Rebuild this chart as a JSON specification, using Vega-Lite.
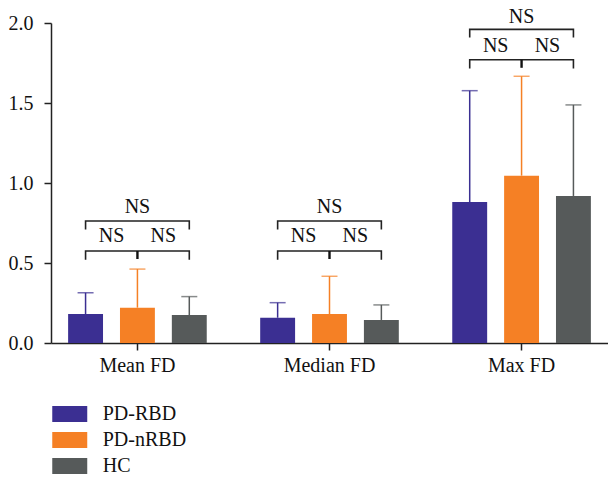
{
  "$schema": "https://vega.github.io/schema/vega-lite/v6.json",
  "width": 557,
  "height": 320,
  "autosize": "none",
  "padding": {"left": 51, "top": 23, "right": 0, "bottom": 134},
  "background": "white",
  "datasets": {
    "bars": [
      {"g": "Mean FD", "s": "PD-RBD", "m": 0.181, "u": 0.314},
      {"g": "Mean FD", "s": "PD-nRBD", "m": 0.221, "u": 0.462},
      {"g": "Mean FD", "s": "HC", "m": 0.175, "u": 0.29},
      {"g": "Median FD", "s": "PD-RBD", "m": 0.158, "u": 0.252},
      {"g": "Median FD", "s": "PD-nRBD", "m": 0.181, "u": 0.417},
      {"g": "Median FD", "s": "HC", "m": 0.144, "u": 0.238},
      {"g": "Max FD", "s": "PD-RBD", "m": 0.881, "u": 1.577},
      {"g": "Max FD", "s": "PD-nRBD", "m": 1.046, "u": 1.667},
      {"g": "Max FD", "s": "HC", "m": 0.919, "u": 1.488}
    ],
    "brackets": [
      {"g": "Mean FD", "b": "up", "o": 1, "s": "PD-RBD", "y": 0.715},
      {"g": "Mean FD", "b": "up", "o": 2, "s": "PD-RBD", "y": 0.7625},
      {"g": "Mean FD", "b": "up", "o": 3, "s": "HC", "y": 0.7625},
      {"g": "Mean FD", "b": "up", "o": 4, "s": "HC", "y": 0.715},
      {"g": "Mean FD", "b": "lo", "o": 1, "s": "PD-RBD", "y": 0.525},
      {"g": "Mean FD", "b": "lo", "o": 2, "s": "PD-RBD", "y": 0.575},
      {"g": "Mean FD", "b": "lo", "o": 3, "s": "HC", "y": 0.575},
      {"g": "Mean FD", "b": "lo", "o": 4, "s": "HC", "y": 0.525},
      {"g": "Median FD", "b": "up", "o": 1, "s": "PD-RBD", "y": 0.715},
      {"g": "Median FD", "b": "up", "o": 2, "s": "PD-RBD", "y": 0.7625},
      {"g": "Median FD", "b": "up", "o": 3, "s": "HC", "y": 0.7625},
      {"g": "Median FD", "b": "up", "o": 4, "s": "HC", "y": 0.715},
      {"g": "Median FD", "b": "lo", "o": 1, "s": "PD-RBD", "y": 0.525},
      {"g": "Median FD", "b": "lo", "o": 2, "s": "PD-RBD", "y": 0.575},
      {"g": "Median FD", "b": "lo", "o": 3, "s": "HC", "y": 0.575},
      {"g": "Median FD", "b": "lo", "o": 4, "s": "HC", "y": 0.525},
      {"g": "Max FD", "b": "up", "o": 1, "s": "PD-RBD", "y": 1.915},
      {"g": "Max FD", "b": "up", "o": 2, "s": "PD-RBD", "y": 1.96},
      {"g": "Max FD", "b": "up", "o": 3, "s": "HC", "y": 1.96},
      {"g": "Max FD", "b": "up", "o": 4, "s": "HC", "y": 1.915},
      {"g": "Max FD", "b": "lo", "o": 1, "s": "PD-RBD", "y": 1.72},
      {"g": "Max FD", "b": "lo", "o": 2, "s": "PD-RBD", "y": 1.77},
      {"g": "Max FD", "b": "lo", "o": 3, "s": "HC", "y": 1.77},
      {"g": "Max FD", "b": "lo", "o": 4, "s": "HC", "y": 1.72}
    ],
    "centers": [
      {"g": "Mean FD", "s": "PD-nRBD", "y": 0.575, "y2": 0.525},
      {"g": "Median FD", "s": "PD-nRBD", "y": 0.575, "y2": 0.525},
      {"g": "Max FD", "s": "PD-nRBD", "y": 1.77, "y2": 1.72}
    ],
    "ns": [
      {"g": "Mean FD", "pos": "top", "s": "PD-nRBD", "y": 0.85, "t": "NS"},
      {"g": "Mean FD", "pos": "left", "s": "PD-RBD", "y": 0.669, "t": "NS"},
      {"g": "Mean FD", "pos": "right", "s": "HC", "y": 0.669, "t": "NS"},
      {"g": "Median FD", "pos": "top", "s": "PD-nRBD", "y": 0.85, "t": "NS"},
      {"g": "Median FD", "pos": "left", "s": "PD-RBD", "y": 0.669, "t": "NS"},
      {"g": "Median FD", "pos": "right", "s": "HC", "y": 0.669, "t": "NS"},
      {"g": "Max FD", "pos": "top", "s": "PD-nRBD", "y": 2.04, "t": "NS"},
      {"g": "Max FD", "pos": "left", "s": "PD-RBD", "y": 1.856, "t": "NS"},
      {"g": "Max FD", "pos": "right", "s": "HC", "y": 1.856, "t": "NS"}
    ]
  },
  "encoding": {
    "x": {
      "field": "g", "type": "nominal", "sort": ["Mean FD", "Median FD", "Max FD"],
      "scale": {"paddingInner": 0.1, "paddingOuter": 0},
      "axis": {"title": null, "labelAngle": 0, "labelFont": "Liberation Serif", "labelFontSize": 20, "labelPadding": 5, "tickSize": 7, "bandPosition": 0.5}
    },
    "xOffset": {
      "field": "s", "type": "nominal", "sort": ["PD-RBD", "PD-nRBD", "HC"],
      "scale": {"paddingInner": 0.327, "paddingOuter": 0.33}
    }
  },
  "layer": [
    {
      "data": {"name": "bars"},
      "mark": {"type": "rule", "strokeWidth": 1.5},
      "encoding": {
        "y": {
          "field": "m", "type": "quantitative",
          "scale": {"domain": [0, 2]},
          "axis": {"title": null, "values": [0, 0.5, 1, 1.5, 2], "format": ".1f", "labelFont": "Liberation Serif", "labelFontSize": 20, "tickSize": 7, "labelPadding": 11, "grid": false}
        },
        "y2": {"field": "u"},
        "color": {"field": "s", "type": "nominal"}
      }
    },
    {
      "data": {"name": "bars"},
      "mark": {"type": "tick", "orient": "horizontal", "size": 16, "thickness": 1.5},
      "encoding": {
        "y": {"field": "u", "type": "quantitative"},
        "color": {"field": "s", "type": "nominal"}
      }
    },
    {
      "data": {"name": "bars"},
      "mark": {"type": "bar"},
      "encoding": {
        "y": {"field": "m", "type": "quantitative"},
        "color": {
          "field": "s", "type": "nominal",
          "sort": ["PD-RBD", "PD-nRBD", "HC"],
          "scale": {"domain": ["PD-RBD", "PD-nRBD", "HC"], "range": ["#3b2f92", "#f58025", "#565a5a"]},
          "legend": {"title": null}
        }
      }
    },
    {
      "data": {"name": "brackets"},
      "mark": {"type": "line", "color": "#222222", "strokeWidth": 1.6, "strokeCap": "square", "interpolate": "linear"},
      "encoding": {
        "y": {"field": "y", "type": "quantitative"},
        "detail": [{"field": "g", "type": "nominal"}, {"field": "b", "type": "nominal"}],
        "order": {"field": "o", "type": "quantitative"}
      }
    },
    {
      "data": {"name": "centers"},
      "mark": {"type": "rule", "color": "#111111", "strokeWidth": 2.4},
      "encoding": {
        "y": {"field": "y", "type": "quantitative"},
        "y2": {"field": "y2"}
      }
    },
    {
      "data": {"name": "ns"},
      "transform": [{"filter": "datum.pos === 'top'"}],
      "mark": {"type": "text", "font": "Liberation Serif", "fontSize": 20, "baseline": "middle", "color": "#111111"},
      "encoding": {"y": {"field": "y", "type": "quantitative"}, "text": {"field": "t"}}
    },
    {
      "data": {"name": "ns"},
      "transform": [{"filter": "datum.pos === 'left'"}],
      "mark": {"type": "text", "font": "Liberation Serif", "fontSize": 20, "baseline": "middle", "dx": 26, "color": "#111111"},
      "encoding": {"y": {"field": "y", "type": "quantitative"}, "text": {"field": "t"}}
    },
    {
      "data": {"name": "ns"},
      "transform": [{"filter": "datum.pos === 'right'"}],
      "mark": {"type": "text", "font": "Liberation Serif", "fontSize": 20, "baseline": "middle", "dx": -26, "color": "#111111"},
      "encoding": {"y": {"field": "y", "type": "quantitative"}, "text": {"field": "t"}}
    }
  ],
  "config": {
    "view": {"stroke": null},
    "font": "Liberation Serif",
    "axis": {
      "labelFont": "Liberation Serif", "labelColor": "#111111",
      "domainColor": "#222222", "domainWidth": 1.5,
      "tickColor": "#222222", "tickWidth": 1.5
    },
    "axisY": {"labelFont": "Liberation Serif", "labelFontSize": 20},
    "legend": {
      "orient": "none", "legendX": 8.75, "legendY": 381,
      "symbolType": "M-2,-0.914H2V0.914H-2Z", "symbolSize": 306,
      "symbolStrokeWidth": 0, "symbolOpacity": 1,
      "labelFont": "Liberation Serif", "labelFontSize": 20, "labelColor": "#111111",
      "labelOffset": 23, "rowPadding": 6
    }
  }
}
